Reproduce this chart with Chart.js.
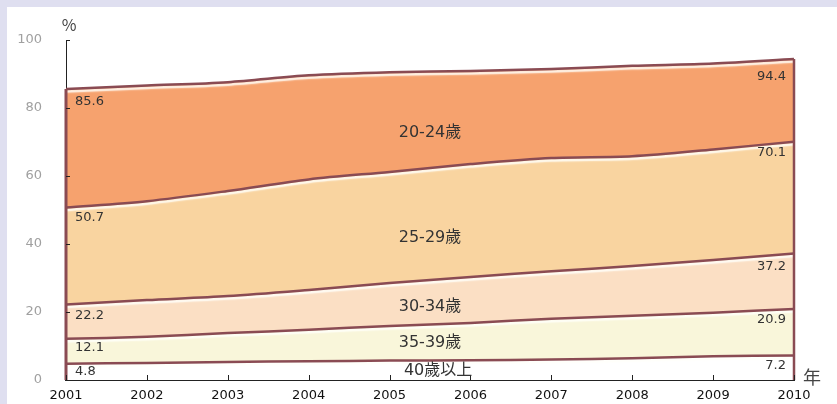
<!DOCTYPE html>
<html>
<head>
<meta charset="utf-8">
<script src="https://cdn.jsdelivr.net/npm/chart.js@4.4.1/dist/chart.umd.min.js"></script>
<style>
  html, body { margin: 0; padding: 0; background: #dfdff0; }
  .wrap { position: absolute; left: 7px; top: 7px; width: 830px; height: 397px; background: #fff; }
  canvas { display: block; }
</style>
</head>
<body>
<div class="wrap"><canvas id="myChart" width="830" height="397"></canvas></div>
<script>
// Years on the x axis
const years = [2001, 2002, 2003, 2004, 2005, 2006, 2007, 2008, 2009, 2010];

// Cumulative shares (%) by age group
const age40plus = [4.8, 5.0, 5.3, 5.5, 5.7, 5.8, 6.0, 6.4, 7.0, 7.2];
const age35to39 = [12.1, 12.7, 13.8, 14.8, 15.9, 16.8, 18.0, 18.9, 19.8, 20.9];
const age30to34 = [22.2, 23.5, 24.7, 26.5, 28.5, 30.3, 32.0, 33.5, 35.3, 37.2];
const age25to29 = [50.7, 52.6, 55.6, 59.0, 61.2, 63.5, 65.3, 65.8, 67.8, 70.1];
const age20to24 = [85.6, 86.6, 87.6, 89.6, 90.5, 90.9, 91.5, 92.4, 93.1, 94.4];

const groupNames = ['40歲以上', '35-39歲', '30-34歲', '25-29歲', '20-24歲'];
const yTicks = [0, 20, 40, 60, 80, 100];

const lineColor = '#8a4b53';
const fills = ['#ffffff', '#f9f6da', '#fbdfc4', '#f9d4a0', '#f6a26e'];
const series = [age40plus, age35to39, age30to34, age25to29, age20to24];

// where the group names sit (x in years, y in %)
const namePos = [[2005.6, 2.6], [2005.5, 10.8], [2005.5, 21.6], [2005.5, 41.8], [2005.5, 72.8]];
// pixel drop of the end values below their line
const leftDrop = [8, 9, 11, 10, 13];
const rightDrop = [10, 11, 13, 11, 18];

const labelPlugin = {
  id: 'labels',
  beforeDatasetDraw(chart) {
    // light highlight under each boundary line
    const ctx = chart.ctx;
    ctx.save();
    ctx.shadowColor = 'rgba(255,255,250,0.95)';
    ctx.shadowOffsetY = 2.5;
    ctx.shadowBlur = 1.5;
  },
  afterDatasetDraw(chart) {
    chart.ctx.restore();
  },
  afterDatasetsDraw(chart) {
    const { ctx, scales: { x, y } } = chart;
    ctx.save();

    // vertical edges of the area
    ctx.strokeStyle = lineColor;
    ctx.lineWidth = 3;
    ctx.beginPath();
    ctx.moveTo(x.getPixelForValue(years[0]), y.getPixelForValue(0));
    ctx.lineTo(x.getPixelForValue(years[0]), y.getPixelForValue(age20to24[0]));
    ctx.stroke();
    ctx.lineWidth = 2.5;
    ctx.beginPath();
    const last = years.length - 1;
    ctx.moveTo(x.getPixelForValue(years[last]), y.getPixelForValue(0));
    ctx.lineTo(x.getPixelForValue(years[last]), y.getPixelForValue(age20to24[last]));
    ctx.stroke();

    // inward tick marks
    ctx.strokeStyle = '#222';
    ctx.lineWidth = 1;
    years.forEach(yr => {
      const px = Math.round(x.getPixelForValue(yr)) + 0.5;
      ctx.beginPath();
      ctx.moveTo(px, y.bottom);
      ctx.lineTo(px, y.bottom - 5);
      ctx.stroke();
    });
    yTicks.forEach(v => {
      const py = Math.round(y.getPixelForValue(v)) + 0.5;
      ctx.beginPath();
      ctx.moveTo(x.left, py);
      ctx.lineTo(x.left + 4, py);
      ctx.stroke();
    });

    // end values
    ctx.fillStyle = '#333';
    ctx.font = '13px "DejaVu Sans", sans-serif';
    ctx.textBaseline = 'middle';
    series.forEach((s, i) => {
      ctx.textAlign = 'left';
      ctx.fillText(s[0].toFixed(1), x.getPixelForValue(years[0]) + 9, y.getPixelForValue(s[0]) + leftDrop[i]);
      ctx.textAlign = 'right';
      ctx.fillText(s[last].toFixed(1), x.getPixelForValue(years[last]) - 8, y.getPixelForValue(s[last]) + rightDrop[i]);
    });

    // group names
    ctx.textAlign = 'center';
    ctx.font = '16px "DejaVu Sans", "Noto Sans CJK TC", sans-serif';
    groupNames.forEach((name, i) => {
      ctx.fillText(name, x.getPixelForValue(namePos[i][0]), y.getPixelForValue(namePos[i][1]));
    });

    // unit labels
    ctx.fillStyle = '#444';
    ctx.font = '16px "Noto Sans CJK TC", "DejaVu Sans", sans-serif';
    ctx.textAlign = 'center';
    ctx.fillText('%', x.left + 3, y.top - 15);
    ctx.font = '18px "Noto Sans CJK TC", sans-serif';
    ctx.textAlign = 'left';
    ctx.fillText('年', x.right + 9, y.bottom - 3);
    ctx.restore();
  }
};

const canvas = document.getElementById('myChart');

new Chart(canvas, {
  type: 'line',
  data: {
    labels: years,
    datasets: series.map((s, i) => ({
      label: groupNames[i],
      data: s.map((v, j) => ({ x: years[j], y: v })),
      backgroundColor: fills[i],
      borderColor: lineColor,
      borderWidth: 2.5,
      pointRadius: 0,
      tension: 0.3,
      fill: i === 0 ? 'origin' : '-1'
    }))
  },
  options: {
    responsive: false,
    animation: false,
    layout: { padding: { top: 33, right: 43, left: 0, bottom: 0 } },
    plugins: {
      legend: { display: false },
      tooltip: { enabled: false },
      filler: { drawTime: 'beforeDatasetsDraw' }
    },
    scales: {
      x: {
        type: 'linear',
        min: 2001,
        max: 2010,
        grid: { display: false },
        border: { display: true, color: '#222', width: 2 },
        afterFit(scale) { scale.height = 24; },
        ticks: {
          stepSize: 1,
          color: '#111',
          padding: 0,
          font: { family: '"DejaVu Sans", sans-serif', size: 13 },
          callback: v => String(v)
        }
      },
      y: {
        min: 0,
        max: 100,
        grid: { display: false },
        border: { display: true, color: '#222', width: 1 },
        afterFit(scale) { scale.width = 59; },
        ticks: {
          stepSize: 20,
          color: '#a0a0a0',
          padding: 16,
          font: { family: '"DejaVu Sans", sans-serif', size: 13 }
        }
      }
    }
  },
  plugins: [labelPlugin]
});
</script>
</body>
</html>
